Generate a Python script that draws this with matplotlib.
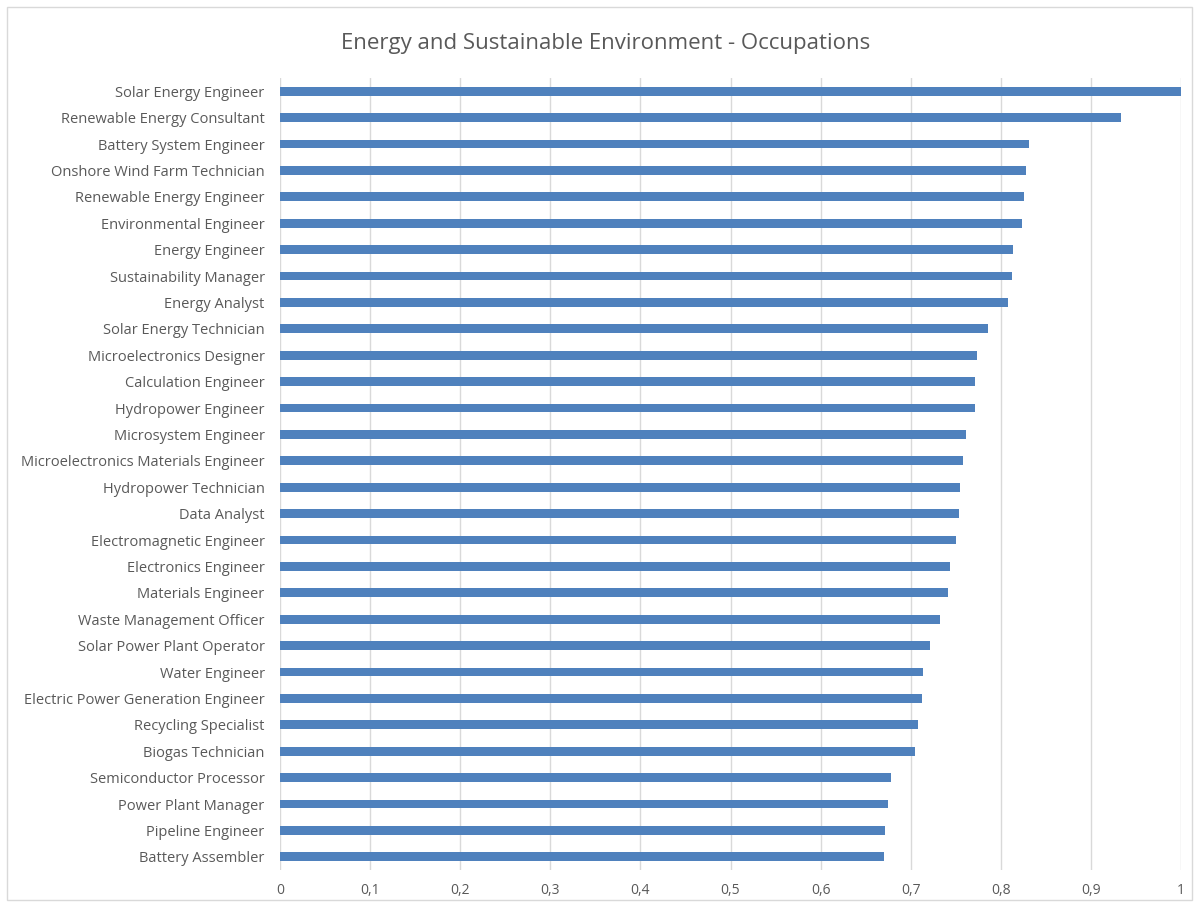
import matplotlib
matplotlib.use("Agg")
import matplotlib.pyplot as plt
from matplotlib.patches import Rectangle

occupations = [
    "Solar Energy Engineer", "Renewable Energy Consultant", "Battery System Engineer",
    "Onshore Wind Farm Technician", "Renewable Energy Engineer", "Environmental Engineer",
    "Energy Engineer", "Sustainability Manager", "Energy Analyst", "Solar Energy Technician",
    "Microelectronics Designer", "Calculation Engineer", "Hydropower Engineer",
    "Microsystem Engineer", "Microelectronics Materials Engineer", "Hydropower Technician",
    "Data Analyst", "Electromagnetic Engineer", "Electronics Engineer", "Materials Engineer",
    "Waste Management Officer", "Solar Power Plant Operator", "Water Engineer",
    "Electric Power Generation Engineer", "Recycling Specialist", "Biogas Technician",
    "Semiconductor Processor", "Power Plant Manager", "Pipeline Engineer", "Battery Assembler",
]
scores = [
    1.000, 0.933, 0.831, 0.828, 0.826, 0.824, 0.813, 0.812, 0.808, 0.786,
    0.774, 0.771, 0.771, 0.761, 0.758, 0.755, 0.754, 0.750, 0.744, 0.741,
    0.733, 0.721, 0.714, 0.712, 0.708, 0.705, 0.678, 0.675, 0.672, 0.670,
]
xticks = [0, 0.1, 0.2, 0.3, 0.4, 0.5, 0.6, 0.7, 0.8, 0.9, 1.0]
xticklabels = ["0", "0,1", "0,2", "0,3", "0,4", "0,5", "0,6", "0,7", "0,8", "0,9", "1"]
title = "Energy and Sustainable Environment - Occupations"

plt.rcParams['font.family'] = ['Open Sans', 'DejaVu Sans']

fig = plt.figure(figsize=(11.98, 9.07), dpi=100)
fig.patches.append(Rectangle((7/1198, 7/907), 1185/1198, 893/907, transform=fig.transFigure,
                             fill=False, edgecolor="#d9d9d9", linewidth=1))
ax = fig.add_axes([280/1198, 37/907, 901/1198, 792/907])

ypos = list(range(len(occupations)))
ax.barh(ypos, scores, height=0.34, color="#4F81BD", zorder=3)
ax.set_ylim(len(occupations) - 0.5, -0.5)
ax.set_xlim(0, 1.0)
ax.set_yticks(ypos)
ax.set_yticklabels(occupations, fontsize=10.5, color="#595959")
ax.set_xticks(xticks)
ax.set_xticklabels(xticklabels, fontsize=10, color="#595959")
ax.tick_params(axis="both", length=0)
ax.tick_params(axis="y", pad=11)
ax.tick_params(axis="x", pad=9)
for s in ax.spines.values():
    s.set_visible(False)
ax.grid(axis="x", color="#d9d9d9", linewidth=1, zorder=0)
ax.set_axisbelow(True)

fig.text(606/1198, 1 - 43/907, title, ha="center", va="center", fontsize=16, color="#595959")

fig.savefig("out.png", dpi=100)
